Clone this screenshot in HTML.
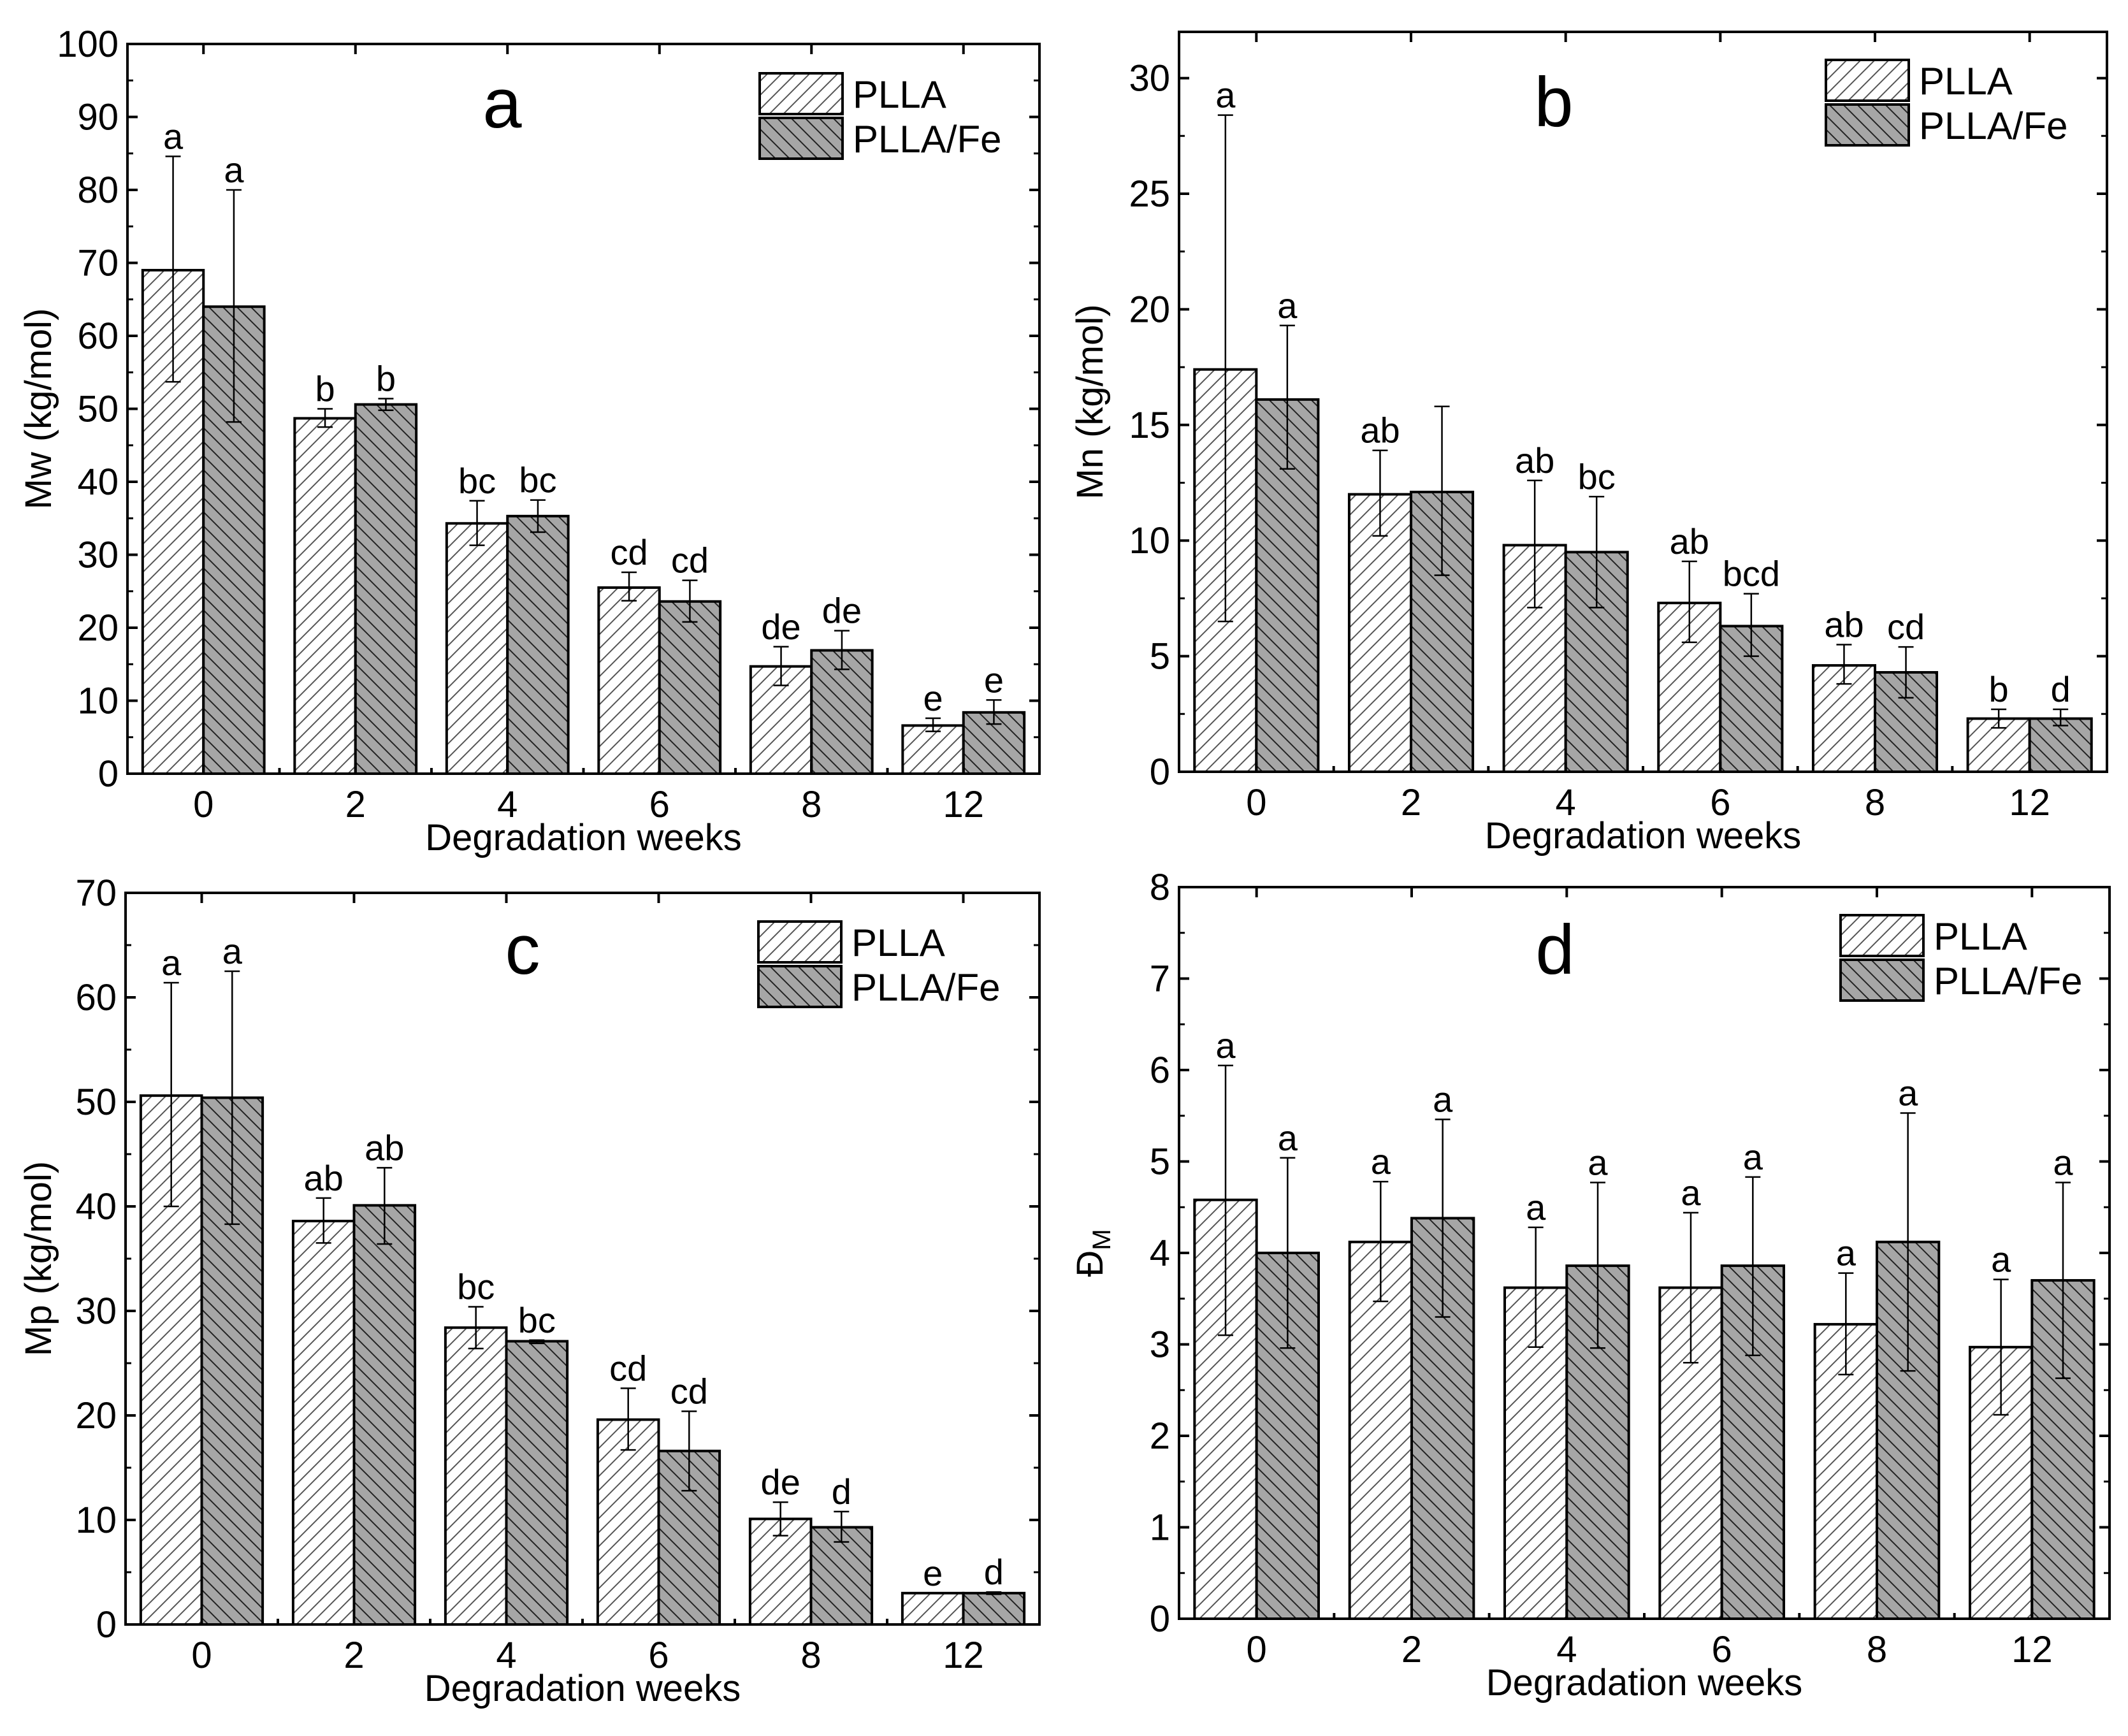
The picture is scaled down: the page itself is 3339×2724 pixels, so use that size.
<!DOCTYPE html>
<html><head><meta charset="utf-8"><style>
html,body{margin:0;padding:0;background:#fff;}
svg{display:block;font-family:"Liberation Sans",Arial,sans-serif;}
</style></head><body>
<svg id="fig" width="3339" height="2724" viewBox="0 0 3339 2724" xmlns="http://www.w3.org/2000/svg">
<defs>
<pattern id="hatchA" patternUnits="userSpaceOnUse" width="22" height="22">
<rect width="22" height="22" fill="#fff"/>
<path d="M-5,27 L27,-5 M-16,16 L16,-16 M6,38 L38,6" stroke="#555" stroke-width="2"/>
</pattern>
<pattern id="hatchB" patternUnits="userSpaceOnUse" width="22" height="22">
<rect width="22" height="22" fill="#a6a6a6"/>
<path d="M-5,-5 L27,27 M-16,6 L16,38 M6,-16 L38,16" stroke="#222" stroke-width="2"/>
</pattern>
</defs>
</svg>
<script>
const categories = ["0","2","4","6","8","12"];
// Panel a: Mw
const mwPLLA = [69, 48.7, 34.3, 25.5, 14.7, 6.6];
const mwPLLALo = [53.7, 47.5, 31.3, 23.7, 12.1, 5.8];
const mwPLLAHi = [84.6, 50, 37.4, 27.6, 17.4, 7.6];
const mwFe = [64, 50.6, 35.3, 23.6, 16.9, 8.4];
const mwFeLo = [48.2, 49.8, 33.1, 20.8, 14.3, 6.8];
const mwFeHi = [80, 51.4, 37.5, 26.5, 19.6, 10.1];
const mwLetPLLA = ["a","b","bc","cd","de","e"];
const mwLetFe = ["a","b","bc","cd","de","e"];
const mwTicks = [0,10,20,30,40,50,60,70,80,90,100];
// Panel b: Mn
const mnPLLA = [17.4, 12, 9.8, 7.3, 4.6, 2.3];
const mnPLLALo = [6.5, 10.2, 7.1, 5.6, 3.8, 1.9];
const mnPLLAHi = [28.4, 13.9, 12.6, 9.1, 5.5, 2.7];
const mnFe = [16.1, 12.1, 9.5, 6.3, 4.3, 2.3];
const mnFeLo = [13.1, 8.5, 7.1, 5.0, 3.2, 2.0];
const mnFeHi = [19.3, 15.8, 11.9, 7.7, 5.4, 2.7];
const mnLetPLLA = ["a","ab","ab","ab","ab","b"];
const mnLetFe = ["a","","bc","bcd","cd","d"];
const mnTicks = [0,5,10,15,20,25,30];
// Panel c: Mp
const mpPLLA = [50.6, 38.6, 28.4, 19.6, 10.1, 3.0];
const mpPLLALo = [40, 36.5, 26.4, 16.7, 8.5, 3.0];
const mpPLLAHi = [61.4, 40.8, 30.4, 22.6, 11.7, 3.0];
const mpFe = [50.4, 40.1, 27.1, 16.6, 9.3, 3.0];
const mpFeLo = [38.3, 36.4, 26.9, 12.8, 7.9, 2.9];
const mpFeHi = [62.5, 43.7, 27.2, 20.4, 10.8, 3.1];
const mpLetPLLA = ["a","ab","bc","cd","de","e"];
const mpLetFe = ["a","ab","bc","cd","d","d"];
const mpTicks = [0,10,20,30,40,50,60,70];
// Panel d: dispersity
const dPLLA = [4.58, 4.12, 3.62, 3.62, 3.22, 2.97];
const dPLLALo = [3.1, 3.47, 2.97, 2.8, 2.67, 2.23];
const dPLLAHi = [6.05, 4.78, 4.28, 4.44, 3.78, 3.71];
const dFe = [4.0, 4.38, 3.86, 3.86, 4.12, 3.7];
const dFeLo = [2.96, 3.3, 2.96, 2.88, 2.71, 2.63];
const dFeHi = [5.04, 5.46, 4.77, 4.83, 5.53, 4.77];
const dLetPLLA = ["a","a","a","a","a","a"];
const dLetFe = ["a","a","a","a","a","a"];
const dTicks = [0,1,2,3,4,5,6,7,8];

const NS="http://www.w3.org/2000/svg";
const svg=document.getElementById('fig');
function mk(tag,attrs,parent){const e=document.createElementNS(NS,tag);for(const k in attrs)e.setAttribute(k,attrs[k]);(parent||svg).appendChild(e);return e;}

function panel(o){
  const g=mk('g',{});
  
  
  const {L,R,T,B,ymax}=o;
  const slot=(R-L)/categories.length;
  const xc=i=>L+slot*(i+0.5);
  const y=v=>B-(v/ymax)*(B-T);
  const bw=slot*0.4;
  const series=[[o.v1,o.lo1,o.hi1,o.let1,'url(#hatchA)',-1,'plla'],[o.v2,o.lo2,o.hi2,o.let2,'url(#hatchB)',0,'plla-fe']];
  series.forEach(s=>{
    s[0].forEach((v,i)=>{
      const x=xc(i)+s[5]*bw;
      const r=mk('rect',{x:x,y:y(v),width:bw,height:B-y(v),fill:s[4],stroke:'#000','stroke-width':4},g);
      
      
      const cx=x+bw/2;
      const eb=mk('path',{d:`M${cx},${y(s[1][i])}V${y(s[2][i])}M${cx-12},${y(s[1][i])}H${cx+12}M${cx-12},${y(s[2][i])}H${cx+12}`,stroke:'#000','stroke-width':2.5,fill:'none'},g);
      
      
      if(s[3][i]){
        const t=mk('text',{x:cx,y:y(s[2][i])-12,'font-size':56,'text-anchor':'middle',fill:'#000'},g);
        t.textContent=s[3][i];
        
        
      }
    });
  });
  const fr=mk('rect',{x:L,y:T,width:R-L,height:B-T,fill:'none',stroke:'#000','stroke-width':4},g);
  
  
  const step=o.ticks[1]-o.ticks[0];
  o.ticks.forEach((t,i)=>{
    const yy=y(t);
    mk('path',{d:`M${L},${yy}h16M${R},${yy}h-16`,stroke:'#000','stroke-width':4},g);
    if(t+step/2<=ymax){const ym=y(t+step/2); mk('path',{d:`M${L},${ym}h9M${R},${ym}h-9`,stroke:'#000','stroke-width':3},g);}
    const lb=mk('text',{x:L-14,y:yy+20,'font-size':58,'text-anchor':'end',fill:'#000'},g);
    lb.textContent=t;
    
    
  });
  categories.forEach((c,i)=>{
    mk('path',{d:`M${xc(i)},${B}v-16M${L+slot*i},${B}v-9M${xc(i)},${T}v16`,stroke:'#000','stroke-width':4},g);
    const lb=mk('text',{x:xc(i),y:B+68,'font-size':58,'text-anchor':'middle',fill:'#000'},g);
    lb.textContent=c;
    
    
  });
  const xt=mk('text',{x:(L+R)/2,y:B+120,'font-size':58,'text-anchor':'middle',fill:'#000'},g);
  xt.textContent='Degradation weeks';
  
  
  const yt=mk('text',{x:0,y:0,'font-size':58,'text-anchor':'middle',fill:'#000',transform:`translate(${o.ytx},${(T+B)/2}) rotate(-90)`},g);
  if(o.ylabelSub){yt.textContent='Ð';const ts=mk('tspan',{'font-size':40,dy:12},yt);ts.textContent='M';}
  else yt.textContent=o.ylabel;
  
  
  const pl=mk('text',{x:o.px,y:o.py,'font-size':110,'text-anchor':'middle',fill:'#000'},g);
  pl.textContent=o.letter;
  
  
  [['PLLA','url(#hatchA)'],['PLLA/Fe','url(#hatchB)']].forEach((e,k)=>{
    const lg=mk('g',{},g);
    
    
    mk('rect',{x:o.lx,y:o.ly+k*70,width:130,height:64,fill:e[1],stroke:'#000','stroke-width':4},lg);
    const t=mk('text',{x:o.lx+146,y:o.ly+k*70+54,'font-size':60,fill:'#000'},lg);
    t.textContent=e[0];
  });
}
panel({name:'panel-a-mw',L:200,R:1631,T:69,B:1214,ymax:100,ticks:mwTicks,v1:mwPLLA,lo1:mwPLLALo,hi1:mwPLLAHi,let1:mwLetPLLA,v2:mwFe,lo2:mwFeLo,hi2:mwFeHi,let2:mwLetFe,ylabel:'Mw (kg/mol)',ytx:80,letter:'a',px:788,py:200,lx:1192,ly:115});
panel({name:'panel-b-mn',L:1850,R:3306,T:50,B:1211,ymax:32,ticks:mnTicks,v1:mnPLLA,lo1:mnPLLALo,hi1:mnPLLAHi,let1:mnLetPLLA,v2:mnFe,lo2:mnFeLo,hi2:mnFeHi,let2:mnLetFe,ylabel:'Mn (kg/mol)',ytx:1730,letter:'b',px:2438,py:198,lx:2865,ly:94});
panel({name:'panel-c-mp',L:197,R:1631,T:1401,B:2549,ymax:70,ticks:mpTicks,v1:mpPLLA,lo1:mpPLLALo,hi1:mpPLLAHi,let1:mpLetPLLA,v2:mpFe,lo2:mpFeLo,hi2:mpFeHi,let2:mpLetFe,ylabel:'Mp (kg/mol)',ytx:80,letter:'c',px:820,py:1528,lx:1190,ly:1446});
panel({name:'panel-d-dispersity',L:1850,R:3310,T:1392,B:2540,ymax:8,ticks:dTicks,v1:dPLLA,lo1:dPLLALo,hi1:dPLLAHi,let1:dLetPLLA,v2:dFe,lo2:dFeLo,hi2:dFeHi,let2:dLetFe,ylabelSub:true,ytx:1730,letter:'d',px:2440,py:1528,lx:2888,ly:1436});
</script>
</body></html>
